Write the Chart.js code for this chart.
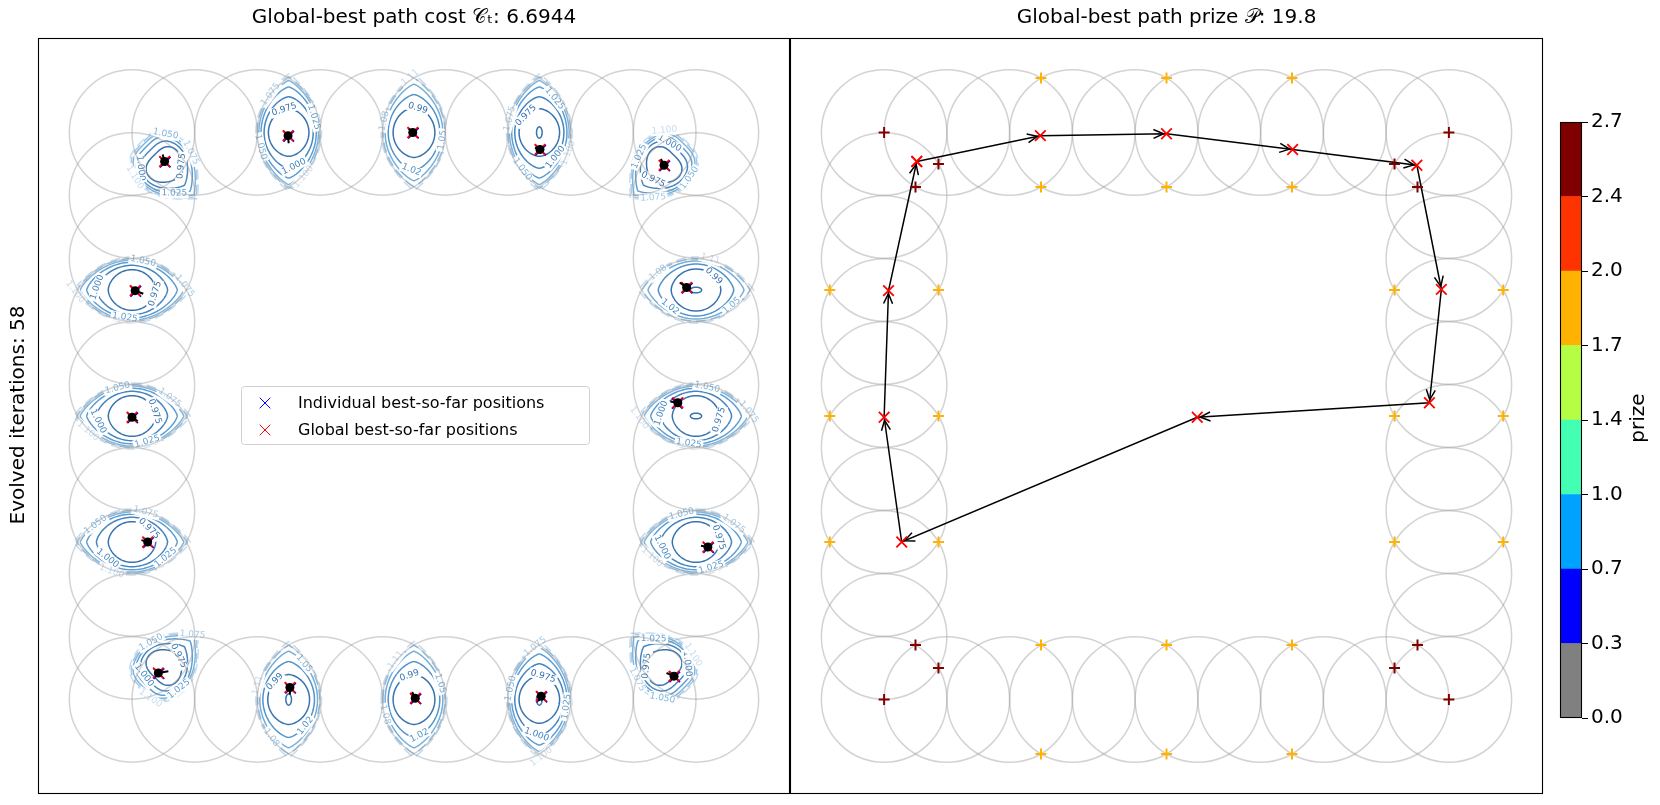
<!DOCTYPE html>
<html>
<head>
<meta charset="utf-8">
<script src="https://cdn.jsdelivr.net/npm/chart.js@4.4.1/dist/chart.umd.min.js"></script>
<style>
  html, body { margin: 0; padding: 0; background: #fff; }
  #wrap { position: relative; width: 1660px; height: 805px; overflow: hidden; }
  canvas { position: absolute; top: 0; }
</style>
</head>
<body>
<div id="wrap">
  <canvas id="costChart" width="792" height="805" style="left:0"></canvas>
  <canvas id="prizeChart" width="756" height="805" style="left:789px"></canvas>
  <canvas id="cbarChart" width="115" height="805" style="left:1545px"></canvas>
</div>
<script>
// ---- data ----
// coverage circles (centres on the ring of the 10x10 grid), radius in data units
const circleX = [0,1,2,3,4,5,6,7,8,9, 9,9,9,9,9,9,9,9, 9,8,7,6,5,4,3,2,1,0, 0,0,0,0,0,0,0,0];
const circleY = [9,9,9,9,9,9,9,9,9,9, 8,7,6,5,4,3,2,1, 0,0,0,0,0,0,0,0,0,0, 1,2,3,4,5,6,7,8];
const circleR = 1;

// global / individual best positions (left panel)
const globalBestX = [0.52, 2.49, 4.48, 6.51, 8.49, 0.05, 8.85, 0.00, 8.71, 0.25, 9.19, 0.42, 2.52, 4.52, 6.53, 8.65];
const globalBestY = [8.54, 8.95, 9.00, 8.73, 8.48, 6.49, 6.54, 4.48, 4.71, 2.50, 2.42, 0.42, 0.19, 0.02, 0.05, 0.37];
const indivBestX  = [0.53, 2.50, 4.49, 6.52, 8.50, 0.06, 8.86, 0.01, 8.70, 0.26, 9.20, 0.43, 2.53, 4.53, 6.54, 8.66];
const indivBestY  = [8.53, 8.94, 8.99, 8.72, 8.47, 6.48, 6.53, 4.47, 4.70, 2.49, 2.41, 0.41, 0.18, 0.01, 0.04, 0.36];
// particle velocity arrows
const velX = [-0.03, 0.01, -0.06, -0.08, -0.05, 0.13, -0.11, 0.09, -0.12, -0.10, -0.11, 0.16, 0.00, -0.05, -0.04, -0.12];
const velY = [ 0.11, -0.12, 0.06, 0.03, 0.10, -0.05, 0.08, -0.06, 0.02, 0.03, 0.02, 0.03, -0.11, 0.10, -0.07, 0.05];

// contour patches around the lenses (cost landscape)
const lensX = [0.5, 2.5, 4.5, 6.5, 8.5, 0, 9, 0, 9, 0, 9, 0.5, 2.5, 4.5, 6.5, 8.5];
const lensY = [8.5, 9, 9, 9, 8.5, 6.5, 6.5, 4.5, 4.5, 2.5, 2.5, 0.5, 0, 0, 0, 0.5];
const lensAngle = [-45, 90, 90, 90, -135, 0, 0, 0, 0, 0, 0, 45, 90, 90, 90, 135];
const lensCorner = [1,0,0,0,1, 0,0,0,0,0,0, 1,0,0,0,1];
const lensLevelSet = ['A','A','B','A','A','A','B','A','A','A','A','A','B','B','A','A'];
const lensIsland = [0,0,0,1,0, 0,1,0,1,0,0, 0,1,0,1,0];
const levelsA = ['0.975', '1.000', '1.025', '1.050', '1.075', '1.100'];
const levelsB = ['0.99', '1.02', '1.05', '1.08', '1.11'];

// right panel: tour through the visited nodes
const pathX = [0.52, 2.49, 4.50, 6.51, 8.49, 8.88, 8.69, 4.99, 0.28, 0.00, 0.07, 0.52];
const pathY = [8.54, 8.95, 8.98, 8.73, 8.48, 6.51, 4.71, 4.48, 2.50, 4.48, 6.49, 8.54];

// prize locations and values
const prizeX = [2.5, 4.5, 6.5, 2.5, 4.5, 6.5,
                -0.866, 0.866, -0.866, 0.866, -0.866, 0.866,
                8.134, 9.866, 8.134, 9.866, 8.134, 9.866,
                2.5, 4.5, 6.5, 2.5, 4.5, 6.5,
                0, 0.866, 0.5, 9, 8.134, 8.5,
                0.5, 0.866, 0, 8.5, 8.134, 9];
const prizeY = [9.866, 9.866, 9.866, 8.134, 8.134, 8.134,
                6.5, 6.5, 4.5, 4.5, 2.5, 2.5,
                6.5, 6.5, 4.5, 4.5, 2.5, 2.5,
                0.866, 0.866, 0.866, -0.866, -0.866, -0.866,
                9, 8.5, 8.134, 9, 8.5, 8.134,
                0.866, 0.5, 0, 0.866, 0.5, 0];
const prizeVal = [1.8,1.8,1.8,1.8,1.8,1.8, 1.8,1.8,1.8,1.8,1.8,1.8, 1.8,1.8,1.8,1.8,1.8,1.8,
                  1.8,1.8,1.8,1.8,1.8,1.8, 2.6,2.6,2.6,2.6,2.6,2.6, 2.6,2.6,2.6,2.6,2.6,2.6];

// colour bar
const cbarBounds = [0, 0.3375, 0.675, 1.0125, 1.35, 1.6875, 2.025, 2.3625, 2.7];
const cbarTickLabels = ['0.0', '0.3', '0.7', '1.0', '1.4', '1.7', '2.0', '2.4', '2.7'];
const cbarColors = ['#808080', '#0000ff', '#00a2ff', '#43ffb4', '#b4ff43', '#ffb300', '#ff3300', '#800000'];

const bestCost = '6.6944';
const bestPrize = '19.8';
const iterations = 58;

// ---- styles ----
Chart.defaults.font.family = "'DejaVu Sans', sans-serif";
Chart.defaults.color = '#000';
Chart.defaults.animation = false;

const levelStyleA = {
  su: [0.44, 0.66, 0.84, 0.96, 1.03, 1.08],
  sv: [0.66, 0.80, 0.90, 0.97, 1.02, 1.07],
  p:  [1.15, 1.3, 1.45, 1.6, 1.75, 1.85],
  colors: ['#3773b0', '#4586c1', '#5f9ed2', '#7fb5dd', '#a5cbe8', '#c6dcf0'],
  dashed: [false, false, false, false, true, true]
};
const levelStyleB = {
  su: [0.46, 0.70, 0.89, 1.00, 1.07],
  sv: [0.68, 0.84, 0.94, 1.01, 1.07],
  p:  [1.15, 1.35, 1.55, 1.7, 1.85],
  colors: ['#3773b0', '#5193c9', '#74aeda', '#9cc6e6', '#c3dbf0'],
  dashed: [false, false, false, true, true]
};
const labelT = [0.8, 3.9, 2.3, 5.5, 0.25, 3.5];

function colorFor(v) {
  for (let i = 0; i < cbarColors.length; i++) {
    if (v < cbarBounds[i + 1]) return cbarColors[i];
  }
  return cbarColors[cbarColors.length - 1];
}

function lensPoint(n, k, st, t) {
  const th = lensAngle[n] * Math.PI / 180;
  const s = Math.sin(t), c = Math.cos(t);
  let u, v;
  if (lensCorner[n]) {
    const front = s >= 0;
    u = (front ? 0.72 : 0.46) * st.su[k] * s;
    const p = front ? st.p[k] + 0.3 : 0.6;
    v = 0.46 * st.sv[k] * Math.sign(c) * Math.pow(Math.abs(c), p);
  } else {
    u = 0.86 * st.su[k] * s;
    v = 0.49 * st.sv[k] * Math.sign(c) * Math.pow(Math.abs(c), st.p[k]);
  }
  return [lensX[n] + u * Math.cos(th) - v * Math.sin(th),
          lensY[n] + u * Math.sin(th) + v * Math.cos(th)];
}

const circlesPlugin = {
  id: 'circles',
  beforeDatasetsDraw(chart) {
    const { ctx, chartArea, scales: { x, y } } = chart;
    ctx.save();
    ctx.beginPath();
    ctx.rect(chartArea.left, chartArea.top, chartArea.width, chartArea.height);
    ctx.clip();
    ctx.strokeStyle = 'rgba(150,150,150,0.42)';
    ctx.lineWidth = 1.5;
    for (let i = 0; i < circleX.length; i++) {
      const px = x.getPixelForValue(circleX[i]);
      const py = y.getPixelForValue(circleY[i]);
      const r = Math.abs(x.getPixelForValue(circleX[i] + circleR) - px);
      ctx.beginPath();
      ctx.arc(px, py, r, 0, Math.PI * 2);
      ctx.stroke();
    }
    ctx.restore();
  }
};

const contourPlugin = {
  id: 'contours',
  beforeDatasetsDraw(chart) {
    const { ctx, chartArea, scales: { x, y } } = chart;
    ctx.save();
    ctx.beginPath();
    ctx.rect(chartArea.left, chartArea.top, chartArea.width, chartArea.height);
    ctx.clip();
    const toPx = (d) => [x.getPixelForValue(d[0]), y.getPixelForValue(d[1])];
    const labels = [];
    for (let n = 0; n < lensX.length; n++) {
      const st = lensLevelSet[n] === 'A' ? levelStyleA : levelStyleB;
      const names = lensLevelSet[n] === 'A' ? levelsA : levelsB;
      for (let k = 0; k < names.length; k++) {
        ctx.beginPath();
        for (let j = 0; j <= 120; j++) {
          const p = toPx(lensPoint(n, k, st, j / 120 * Math.PI * 2));
          if (j === 0) ctx.moveTo(p[0], p[1]); else ctx.lineTo(p[0], p[1]);
        }
        ctx.strokeStyle = st.colors[k];
        ctx.lineWidth = 1.5;
        ctx.setLineDash(st.dashed[k] ? [10, 5] : []);
        ctx.stroke();
        const t = labelT[k] + (n % 3) * 0.5;
        const a = toPx(lensPoint(n, k, st, t));
        const b = toPx(lensPoint(n, k, st, t + 0.02));
        let ang = Math.atan2(b[1] - a[1], b[0] - a[0]);
        if (ang > Math.PI / 2) ang -= Math.PI;
        if (ang < -Math.PI / 2) ang += Math.PI;
        labels.push({ x: a[0], y: a[1], ang, text: names[k], color: st.colors[k] });
      }
      if (lensIsland[n]) {
        ctx.setLineDash([]);
        ctx.beginPath();
        for (let j = 0; j <= 40; j++) {
          const t = j / 40 * Math.PI * 2;
          const th = lensAngle[n] * Math.PI / 180;
          const u = 0.09 * Math.sin(t), v = 0.045 * Math.cos(t);
          const p = toPx([lensX[n] + u * Math.cos(th) - v * Math.sin(th), lensY[n] + u * Math.sin(th) + v * Math.cos(th)]);
          if (j === 0) ctx.moveTo(p[0], p[1]); else ctx.lineTo(p[0], p[1]);
        }
        ctx.strokeStyle = '#3773b0';
        ctx.stroke();
      }
    }
    ctx.setLineDash([]);
    ctx.font = "9px 'DejaVu Sans'";
    ctx.textAlign = 'center';
    ctx.textBaseline = 'middle';
    labels.forEach(l => {
      const w = ctx.measureText(l.text).width + 3;
      ctx.save();
      ctx.translate(l.x, l.y);
      ctx.rotate(l.ang);
      ctx.fillStyle = '#fff';
      ctx.fillRect(-w / 2, -5, w, 10);
      ctx.fillStyle = l.color;
      ctx.fillText(l.text, 0, 0);
      ctx.restore();
    });
    ctx.restore();
  }
};

const velocityPlugin = {
  id: 'velocity',
  afterDatasetsDraw(chart) {
    const { ctx, scales: { x, y } } = chart;
    ctx.save();
    ctx.strokeStyle = '#000';
    ctx.lineWidth = 2;
    for (let i = 0; i < globalBestX.length; i++) {
      const x0 = x.getPixelForValue(globalBestX[i]), y0 = y.getPixelForValue(globalBestY[i]);
      const x1 = x.getPixelForValue(globalBestX[i] + velX[i]), y1 = y.getPixelForValue(globalBestY[i] + velY[i]);
      ctx.beginPath();
      ctx.moveTo(x0, y0);
      ctx.lineTo(x1, y1);
      ctx.stroke();
    }
    ctx.restore();
  }
};

const framePlugin = {
  id: 'frame',
  afterDraw(chart) {
    const { ctx, chartArea } = chart;
    ctx.save();
    ctx.strokeStyle = '#000';
    ctx.lineWidth = 1.1;
    ctx.strokeRect(Math.round(chartArea.left) + 0.5, Math.round(chartArea.top) + 0.5,
                   Math.round(chartArea.width) - 1, Math.round(chartArea.height) - 1);
    ctx.restore();
  }
};

const costExtrasPlugin = {
  id: 'costExtras',
  afterDraw(chart) {
    const { ctx } = chart;
    ctx.save();
    // y label
    ctx.font = "20px 'DejaVu Sans'";
    ctx.fillStyle = '#000';
    ctx.textAlign = 'center';
    ctx.textBaseline = 'middle';
    ctx.translate(19, 415);
    ctx.rotate(-Math.PI / 2);
    ctx.fillText('Evolved iterations: ' + iterations, 0, 0);
    ctx.restore();

    // legend
    ctx.save();
    const bx = 241.5, by = 386.5, bw = 348, bh = 58;
    ctx.fillStyle = 'rgba(255,255,255,0.9)';
    ctx.strokeStyle = '#d0d0d0';
    ctx.lineWidth = 1;
    ctx.beginPath();
    ctx.roundRect(bx, by, bw, bh, 3);
    ctx.fill();
    ctx.stroke();
    const entries = [
      { text: 'Individual best-so-far positions', color: '#0000ff', y: 403 },
      { text: 'Global best-so-far positions', color: '#ff0000', y: 430 }
    ];
    ctx.font = "16px 'DejaVu Sans'";
    ctx.textBaseline = 'middle';
    ctx.textAlign = 'left';
    entries.forEach(e => {
      ctx.strokeStyle = e.color;
      Chart.helpers.drawPoint(ctx, { pointStyle: 'crossRot', radius: 7.5, borderWidth: 1.5 }, 265, e.y);
      ctx.fillStyle = '#000';
      ctx.fillText(e.text, 298, e.y + 1);
    });
    ctx.restore();
  }
};

const arrowPlugin = {
  id: 'arrowHeads',
  beforeDatasetsDraw(chart) {
    const { ctx, scales: { x, y } } = chart;
    ctx.save();
    ctx.strokeStyle = '#000';
    ctx.lineWidth = 1.5;
    for (let i = 1; i < pathX.length; i++) {
      const x0 = x.getPixelForValue(pathX[i - 1]), y0 = y.getPixelForValue(pathY[i - 1]);
      const x1 = x.getPixelForValue(pathX[i]), y1 = y.getPixelForValue(pathY[i]);
      const ang = Math.atan2(y1 - y0, x1 - x0);
      const tx = x1 - 3 * Math.cos(ang), ty = y1 - 3 * Math.sin(ang);
      const L = 11, W = 0.42;
      ctx.beginPath();
      ctx.moveTo(tx - L * Math.cos(ang - W), ty - L * Math.sin(ang - W));
      ctx.lineTo(tx, ty);
      ctx.lineTo(tx - L * Math.cos(ang + W), ty - L * Math.sin(ang + W));
      ctx.stroke();
    }
    ctx.restore();
  }
};

const cbarExtrasPlugin = {
  id: 'cbarExtras',
  afterDraw(chart) {
    const { ctx } = chart;
    ctx.save();
    ctx.font = "20px 'DejaVu Sans'";
    ctx.fillStyle = '#000';
    ctx.textAlign = 'center';
    ctx.textBaseline = 'middle';
    ctx.translate(1639 - 1545, 418);
    ctx.rotate(-Math.PI / 2);
    ctx.fillText('prize', 0, 0);
    ctx.restore();
  }
};

const panelScales = {
  x: { type: 'linear', min: -1.5, max: 10.5, display: false },
  y: { type: 'linear', min: -1.5, max: 10.5, display: false }
};

const titleOpts = (text) => ({
  display: true,
  text,
  font: { size: 20, weight: 'normal', lineHeight: 1.2 },
  color: '#000',
  padding: { top: 6, bottom: 8 }
});

const pts = (xs, ys) => xs.map((v, i) => ({ x: v, y: ys[i] }));

// ---- left panel: cost landscape ----
new Chart(document.getElementById('costChart'), {
  type: 'scatter',
  data: {
    datasets: [
      {
        label: 'particles',
        data: pts(globalBestX, globalBestY),
        pointStyle: 'circle',
        pointRadius: 4.5,
        backgroundColor: '#000',
        borderColor: '#000',
        borderWidth: 0,
        order: 0
      },
      {
        label: 'Global best-so-far positions',
        data: pts(globalBestX, globalBestY),
        pointStyle: 'crossRot',
        pointRadius: 7.5,
        borderColor: '#ff0000',
        borderWidth: 1.8,
        order: 1
      },
      {
        label: 'Individual best-so-far positions',
        data: pts(indivBestX, indivBestY),
        pointStyle: 'crossRot',
        pointRadius: 7.5,
        borderColor: '#0000ff',
        borderWidth: 1.8,
        order: 2
      }
    ]
  },
  options: {
    responsive: false,
    layout: { autoPadding: false, padding: { left: 38, right: 2, top: 0, bottom: 11 } },
    scales: panelScales,
    plugins: {
      legend: { display: false },
      tooltip: { enabled: false },
      title: titleOpts('Global-best path cost \u{1D49E}\u209C: ' + bestCost)
    }
  },
  plugins: [contourPlugin, circlesPlugin, velocityPlugin, framePlugin, costExtrasPlugin]
});

// ---- right panel: prize tour ----
new Chart(document.getElementById('prizeChart'), {
  type: 'scatter',
  data: {
    datasets: [
      {
        label: 'tour',
        data: pts(pathX, pathY),
        showLine: true,
        borderColor: '#000',
        borderWidth: 1.5,
        pointRadius: 0,
        order: 3
      },
      {
        label: 'prizes',
        data: pts(prizeX, prizeY),
        pointStyle: 'cross',
        pointRadius: 5.5,
        borderWidth: 2,
        borderColor: prizeVal.map(colorFor),
        order: 2
      },
      {
        label: 'nodes',
        data: pts(pathX, pathY),
        pointStyle: 'crossRot',
        pointRadius: 7.5,
        borderWidth: 1.8,
        borderColor: '#ff0000',
        order: 1
      }
    ]
  },
  options: {
    responsive: false,
    layout: { autoPadding: false, padding: { left: 1, right: 2, top: 0, bottom: 11 } },
    scales: panelScales,
    plugins: {
      legend: { display: false },
      tooltip: { enabled: false },
      title: titleOpts('Global-best path prize \u{1D4AB}: ' + bestPrize)
    }
  },
  plugins: [circlesPlugin, arrowPlugin, framePlugin]
});

// ---- colour bar ----
new Chart(document.getElementById('cbarChart'), {
  type: 'bar',
  data: {
    labels: ['prize'],
    datasets: cbarColors.map((c, i) => ({
      data: [[cbarBounds[i], cbarBounds[i + 1]]],
      backgroundColor: c,
      borderWidth: 0,
      categoryPercentage: 1,
      barPercentage: 1
    }))
  },
  options: {
    responsive: false,
    layout: { autoPadding: false, padding: { left: 15, right: 38, top: 122, bottom: 87 } },
    scales: {
      x: { display: false, stacked: true },
      y: {
        position: 'right',
        min: 0,
        max: 2.7,
        afterBuildTicks: (s) => { s.ticks = cbarBounds.map(v => ({ value: v })); },
        afterFit: (s) => { s.width = 40; },
        ticks: {
          callback: (v, i) => cbarTickLabels[i],
          font: { size: 20 },
          color: '#000',
          padding: 3
        },
        grid: { drawOnChartArea: false, drawTicks: true, tickLength: 6, color: '#000', lineWidth: 1 },
        border: { display: false }
      }
    },
    plugins: { legend: { display: false }, tooltip: { enabled: false } }
  },
  plugins: [framePlugin, cbarExtrasPlugin]
});
</script>
</body>
</html>
